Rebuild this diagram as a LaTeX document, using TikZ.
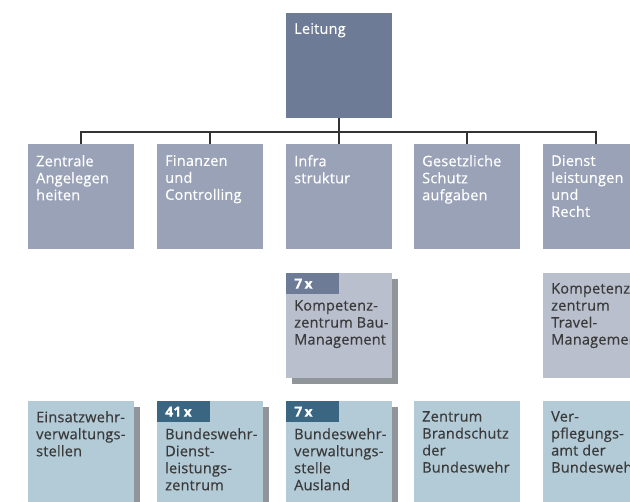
\documentclass[tikz,border=0pt]{standalone}
\usepackage{fontspec}
\setmainfont[LetterSpace=1.5, FakeBold=0.5]{Open Sans}
\usepackage{xcolor}
\definecolor{bwslate}{RGB}{109, 123, 151}
\definecolor{bwslate-mid}{RGB}{154, 162, 183}
\definecolor{bwslate-light}{RGB}{185, 191, 205}
\definecolor{bwteal}{RGB}{59, 102, 130}
\definecolor{bwteal-light}{RGB}{179, 203, 215}
\definecolor{bwshadow}{RGB}{143, 149, 152}
\definecolor{bwtext}{RGB}{58, 58, 58}
\definecolor{bwline}{RGB}{51, 51, 51}
\usetikzlibrary{shadows}
\tikzset{
  % --- BOXES ---
  unit/.style={
    anchor=north west,
    inner sep=0pt,
    minimum width=106bp,
    minimum height=105bp
  },
  slate-dark/.style={unit, fill=bwslate},
  slate-mid/.style={unit, fill=bwslate-mid},
  slate-light/.style={unit, fill=bwslate-light},
  teal-light/.style={unit, fill=bwteal-light},
  % shadowed box
  stacked/.style={
    drop shadow={shadow xshift=6bp, shadow yshift=-6bp,
      fill=bwshadow, opacity=1}
  },
  % --- TEXTS ---
  unit-text/.style={
    anchor=north west,
    inner sep=0pt,
    align=left,
    text=bwtext,
    font=\fontsize{14.5bp}{17bp}\selectfont
  },
  unit-text-light/.style={unit-text, text=white},
  % --- TAGS ---
  tag/.style={
    anchor=north west,
    inner xsep=8bp,
    inner ysep=0pt,
    text width=37bp,
    minimum height=21bp,
    align=left,
    text=white,
    font=\fontsize{14bp}{17bp}\selectfont\bfseries
  },
  tag-slate/.style={tag, fill=bwslate},
  tag-teal/.style={tag, fill=bwteal},
  % --- LINES ---
  tree-line/.style={
    draw=bwline,
    line width=2.5bp
  }
}

\begin{document}
\begin{tikzpicture}[x=1bp, y=-1bp]
  \useasboundingbox (0, 0) rectangle (630, 502);
  \clip (0, 0) rectangle (630, 502);

  % --- top
  \node[slate-dark] (leitung) at (286, 13) {};
  \node[unit-text-light] (leitung-txt) at (294, 23) {Leitung};
  % --- departments
  \node[slate-mid] (zentral) at (28, 144) {};
  \node[unit-text-light] (zentral-txt) at (36, 155) {Zentrale\\Angelegen\\heiten};
  \node[slate-mid] (finanz) at (157, 144) {};
  \node[unit-text-light] (finanz-txt) at (165, 155) {Finanzen\\und\\Controlling};
  \node[slate-mid] (infra) at (286, 144) {};
  \node[unit-text-light] (infra-txt) at (294, 155) {Infra\\struktur};
  \node[slate-mid] (gesetz) at (414, 144) {};
  \node[unit-text-light] (gesetz-txt) at (422, 155) {Gesetzliche\\Schutz\\aufgaben};
  \node[slate-mid] (dienst) at (543, 144) {};
  \node[unit-text-light] (dienst-txt) at (551, 155) {Dienst\\leistungen\\und\\Recht};
  % --- competence centres
  \node[slate-light, stacked] (kompbau) at (286, 273) {};
  \node[tag-slate] (kompbau-tag) at (286, 273) {7\,x};
  \node[unit-text] (kompbau-txt) at (294, 300) {Kompetenz-\\zentrum Bau-\\Management};
  \node[slate-light] (komptravel) at (543, 273) {};
  \node[unit-text] (komptravel-txt) at (551, 283) {Kompetenz-\\zentrum\\Travel-\\Management};
  % --- offices
  \node[teal-light, stacked] (einsatz) at (28, 401) {};
  \node[unit-text] (einsatz-txt) at (36, 411) {Einsatzwehr-\\verwaltungs-\\stellen};
  \node[teal-light, stacked] (bwdlz) at (157, 401) {};
  \node[tag-teal] (bwdlz-tag) at (157, 401) {41\,x};
  \node[unit-text] (bwdlz-txt) at (165, 428) {Bundeswehr-\\Dienst-\\leistungs-\\zentrum};
  \node[teal-light, stacked] (bwvsta) at (286, 401) {};
  \node[tag-teal] (bwvsta-tag) at (286, 401) {7\,x};
  \node[unit-text] (bwvsta-txt) at (294, 428) {Bundeswehr-\\verwaltungs-\\stelle\\Ausland};
  \node[teal-light] (brandschutz) at (414, 401) {};
  \node[unit-text] (brandschutz-txt) at (422, 411) {Zentrum\\Brandschutz\\der\\Bundeswehr};
  \node[teal-light] (verpflegung) at (543, 401) {};
  \node[unit-text] (verpflegung-txt) at (551, 411) {Ver-\\pflegungs-\\amt der\\Bundeswehr};
  % --- tree
  \coordinate (bus) at ([yshift=12bp]infra.north);
  \draw[tree-line] (leitung.south) -- (infra.north);
  \draw[tree-line] (bus) -| (zentral.north);
  \draw[tree-line] (bus) -| (finanz.north);
  \draw[tree-line] (bus) -| (gesetz.north);
  \draw[tree-line] (bus) -| (dienst.north);

\end{tikzpicture}
\end{document}
